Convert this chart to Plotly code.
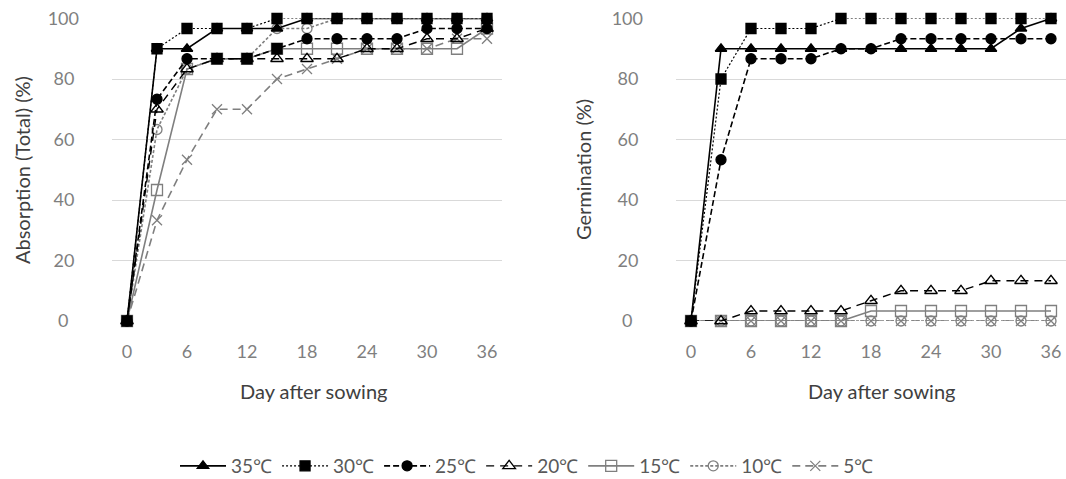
import plotly.graph_objects as go

W, H = 1066, 479

days = [0, 3, 6, 9, 12, 15, 18, 21, 24, 27, 30, 33, 36]
x_ticks = [0, 6, 12, 18, 24, 30, 36]
y_ticks = [0, 20, 40, 60, 80, 100]
series_names = ["35℃", "30℃", "25℃", "20℃", "15℃", "10℃", "5℃"]

# Absorption (Total) (%)
abs_35 = [0, 90, 90, 96.7, 96.7, 96.7, 100, 100, 100, 100, 100, 100, 100]
abs_30 = [0, 90, 96.7, 96.7, 96.7, 100, 100, 100, 100, 100, 100, 100, 100]
abs_25 = [0, 73.3, 86.7, 86.7, 86.7, 90, 93.3, 93.3, 93.3, 93.3, 96.7, 96.7, 96.7]
abs_20 = [0, 70, 83.3, 86.7, 86.7, 86.7, 86.7, 86.7, 90, 90, 93.3, 93.3, 96.7]
abs_15 = [0, 43.3, 83.3, 86.7, 86.7, 90, 90, 90, 90, 90, 90, 90, 96.7]
abs_10 = [0, 63.3, 83.3, 86.7, 86.7, 96.7, 96.7, 100, 100, 100, 100, 100, 100]
abs_5 = [0, 33.3, 53.3, 70, 70, 80, 83.3, 86.7, 90, 90, 90, 93.3, 93.3]

# Germination (%)
ger_35 = [0, 90, 90, 90, 90, 90, 90, 90, 90, 90, 90, 96.7, 100]
ger_30 = [0, 80, 96.7, 96.7, 96.7, 100, 100, 100, 100, 100, 100, 100, 100]
ger_25 = [0, 53.3, 86.7, 86.7, 86.7, 90, 90, 93.3, 93.3, 93.3, 93.3, 93.3, 93.3]
ger_20 = [0, 0, 3.3, 3.3, 3.3, 3.3, 6.7, 10, 10, 10, 13.3, 13.3, 13.3]
ger_15 = [0, 0, 0, 0, 0, 0, 3.3, 3.3, 3.3, 3.3, 3.3, 3.3, 3.3]
ger_10 = [0, 0, 0, 0, 0, 0, 0, 0, 0, 0, 0, 0, 0]
ger_5 = [0, 0, 0, 0, 0, 0, 0, 0, 0, 0, 0, 0, 0]

abs_data = [abs_35, abs_30, abs_25, abs_20, abs_15, abs_10, abs_5]
ger_data = [ger_35, ger_30, ger_25, ger_20, ger_15, ger_10, ger_5]

BLACK = "#000000"
GRAY = "#7f7f7f"
styles = [
    dict(color=BLACK, dash="solid", width=1.6, symbol="triangle-up", size=10),
    dict(color=BLACK, dash="2px,2px", width=1.2, symbol="square", size=10),
    dict(color=BLACK, dash="6px,3px", width=1.6, symbol="circle", size=10),
    dict(color=BLACK, dash="8px,6px", width=1.4, symbol="triangle-up-open", size=11),
    dict(color=GRAY, dash="solid", width=1.6, symbol="square-open", size=11),
    dict(color=GRAY, dash="3px,2px", width=1.6, symbol="circle-open", size=10),
    dict(color=GRAY, dash="8px,5px", width=1.6, symbol="x-thin-open", size=10),
]
# the 25℃ absorption markers appear square where they overlap at days 9-15
abs25_symbols = ["circle", "circle", "circle", "square", "square", "square",
                 "circle", "circle", "circle", "circle", "circle", "circle", "circle"]

fig = go.Figure()
# draw the gray/open series first so the filled black markers end up on top
for i in reversed(range(len(series_names))):
    name, st = series_names[i], styles[i]
    for k, (data, xa, ya) in enumerate([(abs_data[i], "x", "y"), (ger_data[i], "x2", "y2")]):
        sym = st["symbol"]
        if k == 0 and i == 2:
            sym = abs25_symbols
        fig.add_trace(go.Scatter(
            x=days, y=data, xaxis=xa, yaxis=ya, name=name,
            mode="lines+markers", legendgroup=name, showlegend=(k == 0),
            cliponaxis=False,
            line=dict(color=st["color"], dash=st["dash"], width=st["width"]),
            marker=dict(symbol=sym, size=st["size"], color=st["color"],
                        line=dict(color=st["color"], width=1.3)),
        ))

FONT = "Lato"
TICK_COLOR = "#7f7f7f"
TITLE_COLOR = "#404040"
# centred y tick labels (pad shorter labels with figure/half spaces)
y_ticktext = ["0\u2007", "20\u2005", "40\u2005", "60\u2005", "80\u2005", "100"]

y_dom = [1 - 321 / H, 1 - 18.5 / H]
common_x = dict(range=[-1.5, 37.5], tickvals=x_ticks, showgrid=False, zeroline=False,
                showline=False, ticks="", ticklabelstandoff=18, automargin=False,
                tickfont=dict(family=FONT, size=18, color=TICK_COLOR))
common_y = dict(range=[0, 100], tickvals=y_ticks, ticktext=y_ticktext, showgrid=True,
                gridcolor="#d9d9d9", gridwidth=1, zeroline=False, showline=False,
                ticks="", ticklabelstandoff=32, automargin=False,
                tickfont=dict(family=FONT, size=18, color=TICK_COLOR))

title_font = dict(family=FONT, size=20, color=TITLE_COLOR)
fig.update_layout(
    width=W, height=H,
    autosize=False,
    margin=dict(l=0, r=0, t=0, b=0, pad=0, autoexpand=False),
    paper_bgcolor="white", plot_bgcolor="white",
    font=dict(family=FONT, color=TITLE_COLOR),
    xaxis=dict(domain=[112 / W, 502 / W], anchor="y", **common_x),
    yaxis=dict(domain=y_dom, anchor="x", **common_y),
    xaxis2=dict(domain=[676 / W, 1066 / W], anchor="y2", **common_x),
    yaxis2=dict(domain=y_dom, anchor="x2", **common_y),
    legend=dict(orientation="h", x=527 / W, xanchor="center", y=1 - 466 / H,
                yanchor="middle", itemwidth=46, traceorder="reversed",
                font=dict(family=FONT, size=19, color="#595959"),
                bgcolor="rgba(0,0,0,0)"),
    annotations=[
        dict(text="Absorption (Total) (%)", x=22 / W, y=1 - 170 / H, xref="paper", yref="paper",
             xanchor="center", yanchor="middle", textangle=-90, showarrow=False, font=title_font),
        dict(text="Germination (%)", x=583 / W, y=1 - 170 / H, xref="paper", yref="paper",
             xanchor="center", yanchor="middle", textangle=-90, showarrow=False, font=title_font),
        dict(text="Day after sowing", x=313 / W, y=1 - 391 / H, xref="paper", yref="paper",
             xanchor="center", yanchor="middle", showarrow=False, font=title_font),
        dict(text="Day after sowing", x=881 / W, y=1 - 391 / H, xref="paper", yref="paper",
             xanchor="center", yanchor="middle", showarrow=False, font=title_font),
    ],
)

fig.write_html("out.html", config={"displayModeBar": False},
               post_script="document.body.style.margin='0';")
